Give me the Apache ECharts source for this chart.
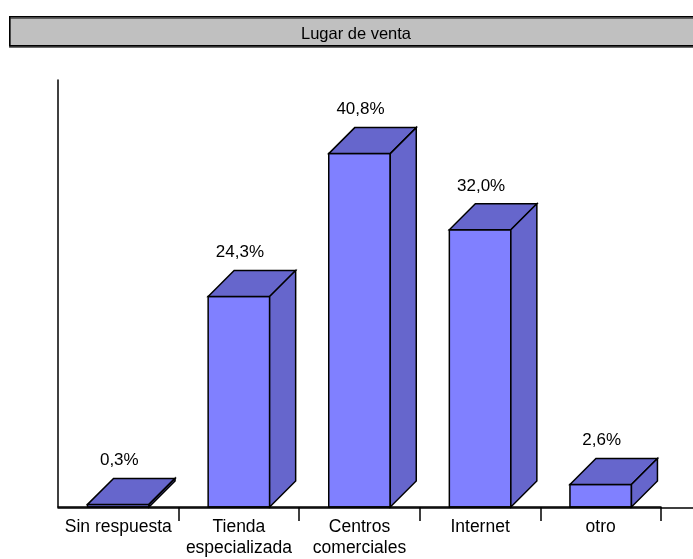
<!DOCTYPE html>
<html>
<head>
<meta charset="utf-8">
<script src="https://cdn.jsdelivr.net/npm/echarts@6/dist/echarts.min.js"></script>
<style>
    html,body{margin:0;padding:0;background:#fff;}
    #chart{width:693px;height:559px;}
</style>
</head>
<body>
<div id="chart"></div>
<script>
// datos
const chartTitle = 'Lugar de venta';
const categories = ['Sin respuesta', 'Tienda\nespecializada', 'Centros\ncomerciales', 'Internet', 'otro'];
const values = [0.3, 24.3, 40.8, 32.0, 2.6];

const chart = echarts.init(document.getElementById('chart'));
const FONT = '"Liberation Sans", Arial, sans-serif';
const DX = 26, DY = 26;

function fmt(v){ return v.toFixed(1).replace('.', ',') + '%'; }

function renderBar(params, api){
    let idx = api.value(0), val = api.value(1);
    let base = api.coord([idx, 0]);
    let top = api.coord([idx, val]);
    let bw = api.size([1, 0])[0] * 0.51;
    let x0 = base[0] - bw / 2, x1 = base[0] + bw / 2;
    let yB = base[1], yT = top[1];
    let line = {stroke: '#000', lineWidth: 1.5, lineJoin: 'miter'};
    return {
        type: 'group',
        children: [
            {type: 'rect', shape: {x: x0, y: yT, width: bw, height: yB - yT},
                style: Object.assign({fill: '#8080ff'}, line)},
            {type: 'polygon', shape: {points: [[x0, yT], [x0 + DX, yT - DY], [x1 + DX, yT - DY], [x1, yT]]},
                style: Object.assign({fill: '#6666cc'}, line)},
            {type: 'polygon', shape: {points: [[x1, yT], [x1 + DX, yT - DY], [x1 + DX, yB - DY], [x1, yB]]},
                style: Object.assign({fill: '#6666cc'}, line)},
            {type: 'text', x: base[0] + 1, y: yT - 44,
                style: {text: fmt(val), fill: '#000', fontSize: 17, fontFamily: FONT, align: 'center', verticalAlign: 'middle'}}
        ]
    };
}

const gridBox = {top: 80, bottom: 51, containLabel: false};

let option = {
    animation: false,
    grid: [
        Object.assign({left: 58, right: 32}, gridBox),
        Object.assign({left: 58, right: 0}, gridBox)   // solo para prolongar el eje X
    ],
    xAxis: [{
        type: 'category',
        gridIndex: 0,
        data: categories,
        z: 5,
        axisLine: {show: true, lineStyle: {color: '#000', width: 1.5}},
        axisTick: {show: true, length: 14, lineStyle: {color: '#000', width: 1.5}, interval: (i) => i !== 0},
        axisLabel: {color: '#000', fontSize: 17.5, fontFamily: FONT, margin: 10, lineHeight: 21, interval: 0}
    }, {
        type: 'value',
        gridIndex: 1,
        min: 0, max: 1,
        axisLine: {show: true, lineStyle: {color: '#000', width: 1.5}},
        axisTick: {show: false},
        axisLabel: {show: false},
        splitLine: {show: false}
    }],
    yAxis: [{
        type: 'value',
        gridIndex: 0,
        min: 0,
        max: 49.3,
        axisLine: {show: true, lineStyle: {color: '#000', width: 1.5}},
        axisTick: {show: false},
        axisLabel: {show: false},
        splitLine: {show: false}
    }, {
        type: 'value',
        gridIndex: 1,
        min: 0, max: 1,
        show: false
    }],
    graphic: [
        {type: 'rect', left: 9, top: 16, z: 10,
            shape: {width: 700, height: 29},
            style: {fill: '#c0c0c0', stroke: '#000', lineWidth: 1.5, shadowColor: 'rgba(0,0,0,0.5)', shadowOffsetY: 1.5}},
        {type: 'text', x: 356, y: 34, z: 11,
            style: {text: chartTitle, fill: '#000', fontSize: 16.5, fontFamily: FONT, align: 'center', verticalAlign: 'middle'}}
    ],
    series: [{
        type: 'custom',
        xAxisIndex: 0,
        yAxisIndex: 0,
        renderItem: renderBar,
        data: values.map((v, i) => [i, v]),
        clip: false
    }]
};
chart.setOption(option);
</script>
</body>
</html>
